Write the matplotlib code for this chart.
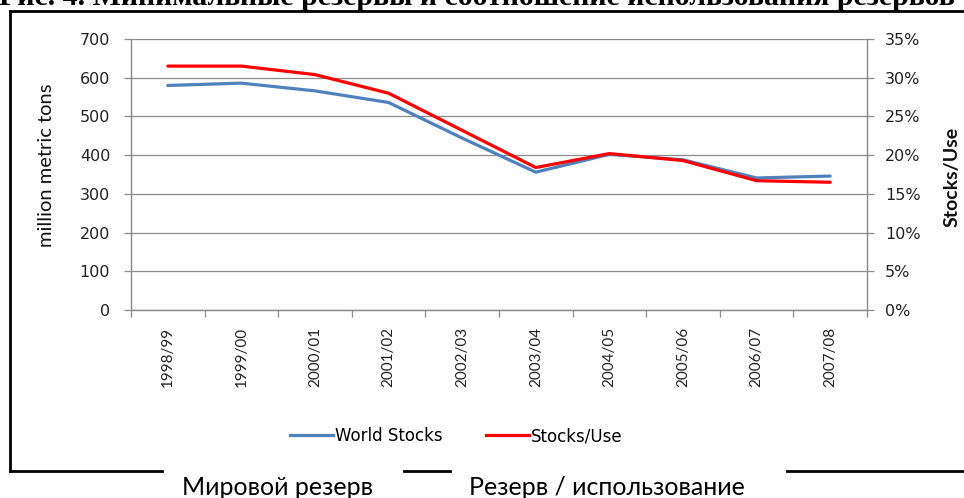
import numpy as np
import matplotlib.pyplot as plt
from matplotlib.lines import Line2D

## Datos
seasons = ['1998/99', '1999/00', '2000/01', '2001/02', '2002/03',
           '2003/04', '2004/05', '2005/06', '2006/07', '2007/08']
world_stocks = [580, 586, 566, 536, 444, 356, 402, 388, 341, 346]  # millones de toneladas
stocks_use = [31.5, 31.5, 30.4, 28.0, 23.2, 18.4, 20.2, 19.3, 16.7, 16.5]  # %

title = 'Рис. 4. Минимальные резервы и соотношение использования резервов'
legend_labels = ['World Stocks', 'Stocks/Use']
ru_labels = ['Мировой резерв', 'Резерв / использование']

plt.rcParams['font.family'] = ['Lato', 'DejaVu Sans']
W, H = 964, 498
fig = plt.figure(figsize=(W / 100, H / 100), dpi=100)

def fx(px):
    return px / W

def fy(py):
    return 1 - py / H

ax = fig.add_axes([fx(131), fy(310), fx(867) - fx(131), fy(39) - fy(310)])
ax2 = ax.twinx()

x = np.arange(len(seasons))
grid_c = '#8c8c8c'
ax.plot(x, world_stocks, color='#4f81bd', lw=2.3, solid_capstyle='round', zorder=3)
ax2.plot(x, stocks_use, color='#ff0000', lw=2.3, solid_capstyle='round', zorder=3)

ax.set_xlim(-0.5, len(seasons) - 0.5)
ax.set_ylim(0, 700)
ax.set_yticks(range(0, 701, 100))
ax2.set_ylim(0, 35)
ax2.set_yticks(range(0, 36, 5))
ax2.set_yticklabels([f'{v}%' for v in range(0, 36, 5)])

ax.yaxis.grid(True, color=grid_c, lw=0.9)
ax.set_axisbelow(True)
ax.set_xticks(x)
ax.set_xticklabels(seasons, rotation=90, fontsize=11, color='#222222')
ax.set_xticks(np.arange(-0.5, len(seasons)), minor=True)
ax.tick_params(axis='x', which='major', length=0, pad=12)
ax.tick_params(axis='x', which='minor', length=5, color=grid_c, width=0.9)
ax.tick_params(axis='y', length=5, color=grid_c, width=0.9, labelsize=11.5, labelcolor='#222222', pad=10)
ax2.tick_params(axis='y', length=5, color=grid_c, width=0.9, labelsize=11.5, labelcolor='#222222', pad=8)
for lab in ax.get_yticklabels() + ax2.get_yticklabels():
    lab.set_family('DejaVu Sans')

for a in (ax, ax2):
    a.spines['top'].set_visible(False)
    for s in ('left', 'right', 'bottom'):
        a.spines[s].set_color(grid_c)
        a.spines[s].set_linewidth(0.9)

fig.text(fx(47), fy(165), 'million metric tons', rotation=90, fontsize=14.5,
         ha='center', va='center', color='#111111')
fig.text(fx(952), fy(177), 'Stocks/Use', rotation=90, fontsize=14, fontweight='bold',
         ha='center', va='center', color='#111111')

# leyenda
handles = [Line2D([], [], color='#4f81bd', lw=2.3), Line2D([], [], color='#ff0000', lw=2.3)]
fig.legend(handles, legend_labels, loc='center', bbox_to_anchor=(fx(456), fy(436)), ncol=2,
           frameon=False, prop={'family': 'DejaVu Sans', 'size': 12},
           handlelength=2.6, handletextpad=0.1, columnspacing=2.6)

# título cortado arriba
fig.text(fx(477), fy(5), title, ha='center', va='baseline', fontsize=21.5,
         fontweight='bold', family='Liberation Serif')

# marco negro
lw = 2
fig.add_artist(Line2D([fx(10), fx(10)], [fy(11), fy(471)], color='black', lw=lw))
fig.add_artist(Line2D([fx(10), fx(964)], [fy(11), fy(11)], color='black', lw=lw))
for a, b in [(10, 162), (404, 450), (787, 964)]:
    fig.add_artist(Line2D([fx(a), fx(b)], [fy(471), fy(471)], color='black', lw=lw))

fig.text(fx(277), fy(487), ru_labels[0], ha='center', va='center', fontsize=18)
fig.text(fx(607), fy(487), ru_labels[1], ha='center', va='center', fontsize=18)

plt.savefig('out.png', dpi=100)
